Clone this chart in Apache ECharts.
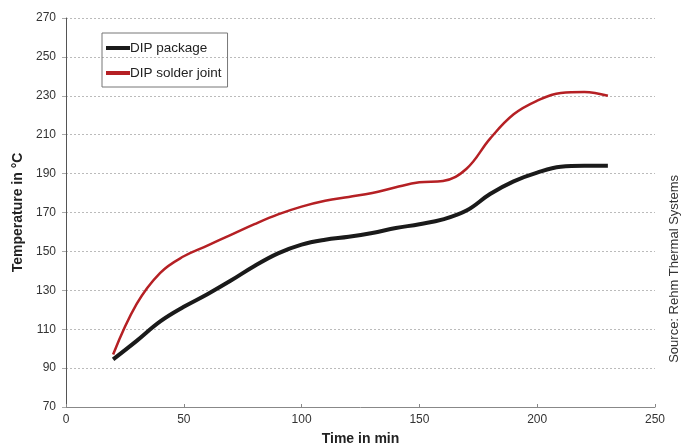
<!DOCTYPE html>
<html><head><meta charset="utf-8">
<script src="https://cdn.jsdelivr.net/npm/echarts@6/dist/echarts.min.js"></script>
<style>html,body{margin:0;padding:0;background:#fff}#c{width:684px;height:448px}</style>
</head><body><div id="c"></div>
<script>
const times = [20,30,40,50,60,70,80,90,100,110,120,130,140,150,160,170,180,190,200,210,220,230];
const dipPackage = [94.5,104,114,121.5,128,135,142.5,149,153.5,156,157.5,159.5,162,164,166.5,171,179.5,186,190.5,193.5,194,194];
const dipSolder = [97,123,139,147.5,153,158.5,164,169,173,176,178,180,183,185.5,186.2,192.5,208,220.5,227.5,231.5,232,230];
const seriesNames = ['DIP package','DIP solder joint'];
const xTitle = 'Time in min';
const yTitle = 'Temperature in °C';
const sourceText = 'Source: Rehm Thermal Systems';

const chart = echarts.init(document.getElementById('c'));
const font = 'Liberation Sans, Arial, sans-serif';
chart.setOption({
  animation:false,
  textStyle:{fontFamily:font},
  grid:{left:66,right:29,top:18,bottom:41,containLabel:false,outerBoundsMode:'none'},
  legend:{
    orient:'vertical',left:102,top:33,
    data:seriesNames,
    icon:'rect',itemWidth:24,itemHeight:4,itemGap:11,
    borderColor:'#777',borderWidth:1,padding:[8,6,7,4],
    textStyle:{fontSize:13.5,color:'#222',fontFamily:font,padding:[0,0,0,-5]}
  },
  xAxis:{
    type:'value',min:0,max:250,interval:50,
    name:xTitle,nameLocation:'middle',nameGap:25,
    nameTextStyle:{fontSize:14,fontWeight:'bold',color:'#222'},
    axisLine:{show:true,lineStyle:{color:'#888',width:1}},
    axisTick:{show:true,inside:true,length:3,lineStyle:{color:'#888'}},
    axisLabel:{fontSize:12,color:'#333',margin:7},
    splitLine:{show:false}
  },
  yAxis:{
    type:'value',min:70,max:270,interval:20,
    name:yTitle,nameLocation:'middle',nameGap:41,nameRotate:90,
    nameTextStyle:{fontSize:14,fontWeight:'bold',color:'#222'},
    axisLine:{show:true,lineStyle:{color:'#555',width:1}},
    axisTick:{show:true,length:4,lineStyle:{color:'#aaa'}},
    axisLabel:{fontSize:12,color:'#333',margin:10},
    splitLine:{show:true,lineStyle:{color:'#bbb',type:[2,2],width:1}}
  },
  graphic:[{
    type:'text',left:668,top:175,rotation:Math.PI/2,
    style:{text:sourceText,fontSize:13,fill:'#333',fontFamily:font}
  }],
  series:[
    {name:seriesNames[0],type:'line',smooth:0.4,showSymbol:false,
     color:'#1a1a1a',lineStyle:{width:4,color:'#1a1a1a'},
     data:times.map((t,i)=>[t,dipPackage[i]])},
    {name:seriesNames[1],type:'line',smooth:0.4,showSymbol:false,
     color:'#b52024',lineStyle:{width:2.5,color:'#b52024'},
     data:times.map((t,i)=>[t,dipSolder[i]])}
  ]
});
</script></body></html>
